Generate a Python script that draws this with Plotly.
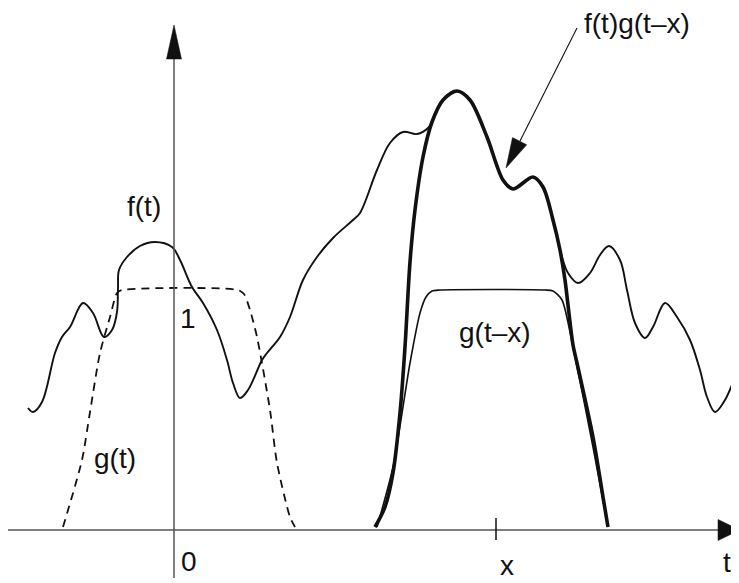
import plotly.graph_objects as go

# f(t): the signal (t, value)
f_t = [-1.46, -1.41, -1.32, -1.19, -1.12, -1.04, -0.91, -0.81, -0.70, -0.62, -0.57, -0.56, -0.55,
       -0.47, -0.34, -0.19, -0.02, 0.06, 0.18, 0.29, 0.43, 0.53, 0.59, 0.66, 0.74, 0.88, 0.93,
       1.06, 1.16, 1.29, 1.43, 1.59, 1.79, 1.86, 2.03, 2.16, 2.29, 2.43, 2.54, 2.69, 2.83, 2.96,
       3.13, 3.29, 3.39, 3.59, 3.69, 3.79, 3.88, 3.94, 4.04, 4.16, 4.26, 4.35, 4.46, 4.53, 4.61,
       4.71, 4.79, 4.91, 5.03, 5.16, 5.26, 5.33, 5.41, 5.51, 5.64, 5.71]
f_y = [1.22, 1.18, 1.28, 1.77, 1.93, 2.03, 2.27, 2.17, 1.93, 2.00, 2.18, 2.43, 2.60,
       2.73, 2.84, 2.88, 2.83, 2.70, 2.43, 2.27, 2.00, 1.70, 1.47, 1.32, 1.40, 1.70, 1.77,
       1.93, 2.13, 2.50, 2.73, 2.92, 3.10, 3.17, 3.60, 3.87, 3.98, 3.96, 4.02, 4.30, 4.39, 4.30,
       3.93, 3.50, 3.41, 3.53, 3.43, 3.10, 2.73, 2.57, 2.47, 2.57, 2.75, 2.84, 2.70, 2.40, 2.07,
       1.92, 2.03, 2.27, 2.13, 1.90, 1.60, 1.33, 1.18, 1.30, 1.60, 1.75]

# g(t): window centred at 0 (dashed)
g_t = [-1.11, -0.92, -0.84, -0.74, -0.64, -0.57, -0.52, 0.64, 0.70, 0.76, 0.83, 0.96, 1.03, 1.16, 1.21]
g_y = [0.03, 0.70, 1.18, 1.77, 2.13, 2.37, 2.40, 2.40, 2.36, 2.20, 1.93, 1.20, 0.67, 0.13, 0.03]

# g(t-x): shifted window
gx_t = [2.03, 2.19, 2.36, 2.46, 2.52, 2.58, 2.66, 3.71, 3.79, 3.88, 3.99, 4.19, 4.34]
gx_y = [0.03, 0.63, 1.67, 2.17, 2.33, 2.39, 2.40, 2.40, 2.39, 2.30, 1.83, 0.83, 0.03]

# f(t)g(t-x): windowed signal (thick)
fg_t = [2.01, 2.11, 2.19, 2.26, 2.31, 2.36, 2.41, 2.49, 2.58, 2.69, 2.83, 2.96, 3.13, 3.29,
        3.39, 3.59, 3.69, 3.79, 3.86, 3.91, 3.94, 3.99, 4.03, 4.19, 4.29, 4.34]
fg_y = [0.03, 0.23, 0.57, 1.17, 1.83, 2.68, 3.20, 3.73, 4.08, 4.30, 4.39, 4.30, 3.93, 3.50,
        3.41, 3.53, 3.43, 3.10, 2.80, 2.50, 2.25, 1.85, 1.67, 0.93, 0.33, 0.03]

x_tick = 3.22
labels = ["f(t)", "1", "g(t)", "0", "x", "t", "g(t\u2013x)", "f(t)g(t\u2013x)"]
label_t = [-0.30, 0.14, -0.59, 0.15, 3.33, 5.53, 3.21, 4.63]
label_y = [3.24, 2.12, 0.72, -0.31, -0.35, -0.32, 1.98, 5.07]

INK = "#111111"
AX = "#555555"

fig = go.Figure()
fig.add_trace(go.Scatter(x=g_t, y=g_y, mode="lines",
                         line=dict(color=INK, width=1.8, dash="8px,6px", shape="spline", smoothing=0.7)))
fig.add_trace(go.Scatter(x=gx_t, y=gx_y, mode="lines",
                         line=dict(color=INK, width=1.6, shape="spline", smoothing=0.7)))
fig.add_trace(go.Scatter(x=f_t, y=f_y, mode="lines",
                         line=dict(color=INK, width=1.9, shape="spline", smoothing=1.0)))
fig.add_trace(go.Scatter(x=fg_t, y=fg_y, mode="lines",
                         line=dict(color=INK, width=3.6, shape="spline", smoothing=0.9)))

shapes = []
# axes
shapes.append(dict(type="line", xref="x", yref="y", x0=-1.67, y0=0, x1=5.44, y1=0,
                   line=dict(color=AX, width=1.5)))
shapes.append(dict(type="line", xref="x", yref="y", x0=0, y0=-0.48, x1=0, y1=4.71,
                   line=dict(color=AX, width=1.5)))
shapes.append(dict(type="path", xref="x", yref="y", path="M 5.44,0.105 L 5.66,0 L 5.44,-0.105 Z",
                   fillcolor=INK, line=dict(color=INK, width=0.5)))
shapes.append(dict(type="path", xref="x", yref="y", path="M -0.075,4.71 L 0,5.05 L 0.075,4.71 Z",
                   fillcolor=INK, line=dict(color=INK, width=0.5)))
# tick at x
shapes.append(dict(type="line", xref="x", yref="y", x0=x_tick, y0=-0.10, x1=x_tick, y1=0.12,
                   line=dict(color=INK, width=1.5)))
# pointer arrow to f(t)g(t-x)
shapes.append(dict(type="line", xref="x", yref="y", x0=4.03, y0=5.02, x1=3.46, y1=3.89,
                   line=dict(color=INK, width=1.1)))
shapes.append(dict(type="path", xref="x", yref="y",
                   path="M 3.385,3.924 L 3.32,3.62 L 3.527,3.852 Z",
                   fillcolor=INK, line=dict(color=INK, width=0.5)))

annotations = [dict(x=tx, y=ty, xref="x", yref="y", text=s, showarrow=False,
                    font=dict(family="Liberation Sans, Arial, sans-serif", size=28, color=INK),
                    xanchor="center", yanchor="middle")
               for s, tx, ty in zip(labels, label_t, label_y)]

# the page body adds an 8px margin, so the figure is sized to fit the window exactly
fig.update_layout(
    width=731, height=575,
    margin=dict(l=0, r=0, t=0, b=0),
    paper_bgcolor="white", plot_bgcolor="white",
    showlegend=False,
    xaxis=dict(range=[-1.66, 5.65], visible=False, fixedrange=True),
    yaxis=dict(range=[-0.53, 5.22], visible=False, fixedrange=True),
    shapes=shapes, annotations=annotations,
)
fig.write_html("out.html")
